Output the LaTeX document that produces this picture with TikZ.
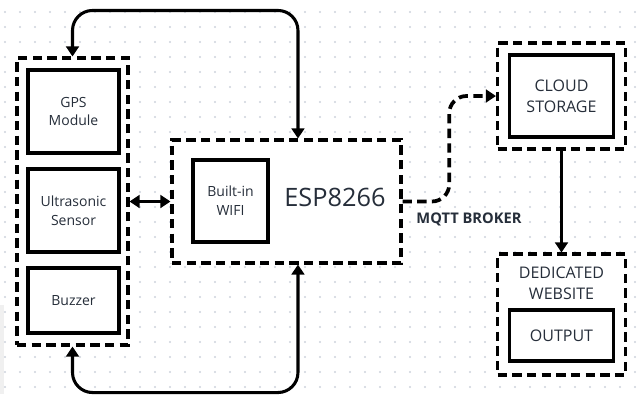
\documentclass[tikz,border=0pt]{standalone}
\usepackage{fontspec}
\setmainfont{Open Sans}
\usetikzlibrary{arrows.meta,calc}
\definecolor{Dotgray}{RGB}{205,210,220}
\definecolor{Txtdark}{RGB}{38,46,58}

\begin{document}
\begin{tikzpicture}[x=0.75pt,y=-0.75pt,>={Triangle[length=7.5pt,width=9.5pt]},
  groupbox/.style={draw,line width=2.3pt,dash pattern=on 7pt off 4pt,fill=white,inner sep=0pt},
  unitbox/.style={draw,line width=2.6pt,fill=white,align=center,inner sep=0pt,text=Txtdark,font=\fontsize{10.5}{14}\selectfont},
  bigtxt/.style={align=center,text=Txtdark,font=\fontsize{12}{16}\selectfont},
  link/.style={line width=2.3pt,<->,rounded corners=15pt}]
\path[use as bounding box,fill=white] (0,0) rectangle (637,394);
\fill[black!6] (0,305) rectangle (4,394);
% dotted grid
\foreach \i in {0,...,42}
  \foreach \j in {0,...,25}
    \fill[Dotgray] (5+15*\i,12+15*\j) circle[radius=0.9pt];

% sensor group
\node[groupbox,minimum width=83.25pt,minimum height=215.25pt] (sensors) at (72.5,201.5) {};
\node[unitbox,minimum width=68.25pt,minimum height=62.25pt] (gps) at (73.5,111.5) {GPS\\Module};
\node[unitbox,minimum width=68.25pt,minimum height=62.25pt] (ultra) at (73.5,210.5) {Ultrasonic\\Sensor};
\node[unitbox,minimum width=68.25pt,minimum height=48.75pt] (buzzer) at (73.5,300.5) {Buzzer};

% controller
\node[groupbox,minimum width=171.75pt,minimum height=92.25pt] (esp) at (286.5,201.5) {};
\node[unitbox,minimum width=56.25pt,minimum height=61.5pt] (wifi) at (230.5,201) {Built-in\\WIFI};
\node[text=Txtdark,font=\fontsize{19}{22}\selectfont] (esplbl) at (335,197) {ESP8266};

% cloud side
\node[groupbox,minimum width=96pt,minimum height=79.5pt] (cloud) at (561.5,96) {};
\node[unitbox,bigtxt,minimum width=78pt,minimum height=61.5pt] (storage) at (561.5,96) {CLOUD\\STORAGE};
\node[groupbox,minimum width=96pt,minimum height=90.75pt] (website) at (561.5,314.5) {};
\node[bigtxt] (weblbl) at (561.5,283) {DEDICATED\\WEBSITE};
\node[unitbox,bigtxt,minimum width=78pt,minimum height=38.25pt] (output) at (561.5,335.5) {OUTPUT};
\node[text=Txtdark,font=\bfseries\fontsize{11}{13}\selectfont] (mqtt) at (469,219) {MQTT BROKER};

% connections
\draw[link] (sensors.north) -- ++(0,-46) -| ([xshift=8.6pt]esp.north);
\draw[link] (sensors.south) -- ++(0,46) -| ([xshift=8.6pt]esp.south);
\draw[link] (sensors.east) -- (esp.west);
\draw[link,->,line width=2.8pt,dash pattern=on 7pt off 4pt,rounded corners=13pt]
  (esp.east) -| ($(esp.east)!0.5!(cloud.west)$) |- (cloud.west);
\draw[line width=2.3pt,->] (cloud.south) -- (website.north);
\end{tikzpicture}
\end{document}
